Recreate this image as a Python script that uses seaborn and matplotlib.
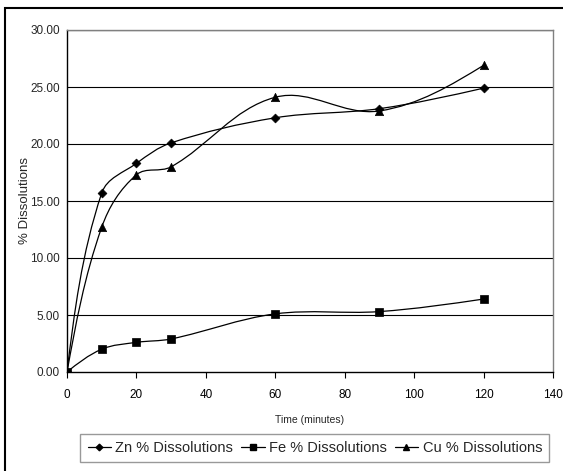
import matplotlib
matplotlib.use("Agg")
import matplotlib.pyplot as plt
import seaborn as sns
import pandas as pd
import numpy as np
from matplotlib.path import Path
from matplotlib.patches import PathPatch, Rectangle
from matplotlib.lines import Line2D

# ---- data ----
time_min = [0, 10, 20, 30, 60, 90, 120]
zn_diss = [0.0, 15.7, 18.3, 20.1, 22.3, 23.1, 24.9]
fe_diss = [0.0, 2.0, 2.6, 2.9, 5.1, 5.3, 6.4]
cu_diss = [0.0, 12.7, 17.3, 18.0, 24.1, 22.9, 26.9]
series_names = ["Zn % Dissolutions", "Fe % Dissolutions", "Cu % Dissolutions"]
x_ticks = [0, 20, 40, 60, 80, 100, 120, 140]
y_ticks = [0, 5, 10, 15, 20, 25, 30]

sns.set_style("white")
plt.rcParams["font.family"] = ["Liberation Sans", "DejaVu Sans"]

df = pd.DataFrame({
    "Time": time_min * 3,
    "Value": zn_diss + fe_diss + cu_diss,
    "Series": [series_names[0]] * 7 + [series_names[1]] * 7 + [series_names[2]] * 7,
})

fig = plt.figure(figsize=(5.63, 4.71), dpi=100)
ax = fig.add_axes([67 / 563, 1 - 372 / 471, (553 - 67) / 563, (372 - 30) / 471])

markers = {series_names[0]: "D", series_names[1]: "s", series_names[2]: "^"}
msizes = {series_names[0]: 4.5, series_names[1]: 5.5, series_names[2]: 6}

# scale of data units to screen pixels (for an Excel-like smoothing)
SX, SY = 486 / 140, 342 / 30
K = 0.35


def smooth_path(xs, ys):
    pts = np.column_stack([np.asarray(xs) * SX, np.asarray(ys) * SY]).astype(float)
    n = len(pts)
    cin = [None] * n
    cout = [None] * n
    for i in range(n):
        if 0 < i < n - 1:
            d = pts[i + 1] - pts[i - 1]
            u = d / np.linalg.norm(d)
            cout[i] = pts[i] + u * np.linalg.norm(pts[i + 1] - pts[i]) * K
            cin[i] = pts[i] - u * np.linalg.norm(pts[i] - pts[i - 1]) * K
    cout[0] = pts[0] + (cin[1] - pts[0]) * 0.5
    cin[n - 1] = pts[n - 1] + (cout[n - 2] - pts[n - 1]) * 0.5
    verts = [pts[0]]
    codes = [Path.MOVETO]
    for i in range(n - 1):
        verts += [cout[i], cin[i + 1], pts[i + 1]]
        codes += [Path.CURVE4] * 3
    verts = np.array(verts) / np.array([SX, SY])
    return Path(verts, codes)


for name, vals in zip(series_names, [zn_diss, fe_diss, cu_diss]):
    patch = PathPatch(smooth_path(time_min, vals), facecolor="none",
                      edgecolor="black", lw=0.9, zorder=3)
    ax.add_patch(patch)

for name in series_names:
    sub = df[df["Series"] == name]
    sns.scatterplot(data=sub, x="Time", y="Value", marker=markers[name],
                    color="black", s=msizes[name] ** 2, edgecolor="black",
                    linewidth=0.5, zorder=4, ax=ax, legend=False)

ax.set_xlim(0, 140)
ax.set_ylim(0, 30)
ax.set_xticks(x_ticks)
ax.set_xticklabels([str(t) for t in x_ticks], fontsize=8.5)
ax.set_yticks(y_ticks)
ax.set_yticklabels([f"{t:.2f}" for t in y_ticks], fontsize=8.5)
ax.tick_params(axis="x", direction="out", length=4, width=0.8, pad=8,
               bottom=True, colors="black")
ax.tick_params(axis="y", length=0, pad=5)

ax.grid(False)
for yv in y_ticks[1:-1]:
    ax.axhline(yv, color="black", lw=0.8, zorder=1)
ax.axhline(30, color="#808080", lw=1.0, zorder=1)

for side in ["left", "bottom"]:
    ax.spines[side].set_color("black")
    ax.spines[side].set_linewidth(1.0)
for side in ["top", "right"]:
    ax.spines[side].set_color("#808080")
    ax.spines[side].set_linewidth(1.0)

ax.set_xlabel("Time (minutes)", fontsize=7.5)
ax.set_ylabel("% Dissolutions", fontsize=9.5)
ax.xaxis.set_label_coords(0.5, -0.125)
ax.yaxis.set_label_coords(-0.075, 0.5)

handles = [Line2D([0], [0], color="black", lw=0.9, marker=markers[n],
                  markersize=msizes[n] * 0.75, markerfacecolor="black")
           for n in series_names]
leg = fig.legend(handles, series_names, loc="lower left",
                 bbox_to_anchor=(73 / 563, 1.5 / 471), ncol=3, fontsize=10.5,
                 frameon=True, fancybox=False, handlelength=1.6,
                 handletextpad=0.3, columnspacing=0.55, borderpad=0.5)
leg.get_frame().set_edgecolor("#808080")
leg.get_frame().set_linewidth(1.0)

frame = Rectangle((5 / 563, -0.1), 1.2, 1 - 7.5 / 471 + 0.1,
                  transform=fig.transFigure, fill=False, edgecolor="black",
                  lw=1.5, clip_on=False, zorder=0)
fig.patches.append(frame)

fig.savefig("out.png", dpi=100)
